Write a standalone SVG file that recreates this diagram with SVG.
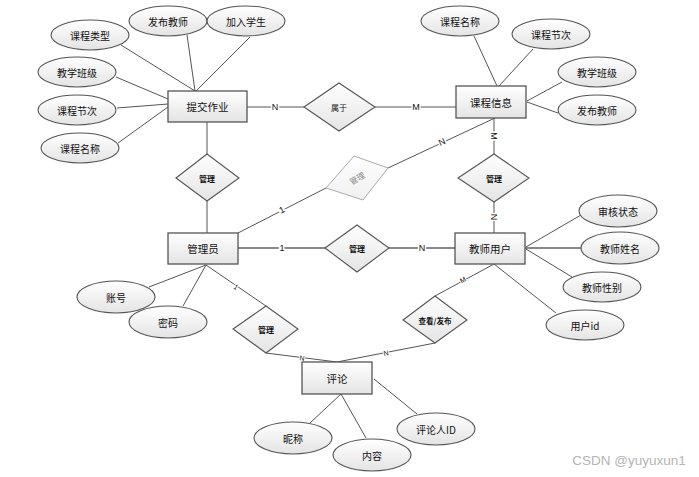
<svg xmlns="http://www.w3.org/2000/svg" width="699" height="477" viewBox="0 0 699 477">
<defs>
<linearGradient id="g" x1="0" y1="0" x2="0" y2="1">
<stop offset="0" stop-color="#ffffff"/>
<stop offset="1" stop-color="#e4e4e4"/>
</linearGradient>
<linearGradient id="gl" x1="0" y1="0" x2="0" y2="1">
<stop offset="0" stop-color="#ffffff"/>
<stop offset="1" stop-color="#f0f0f0"/>
</linearGradient>
</defs>
<style>
.ent{fill:url(#g);stroke:#555;stroke-width:1.3}
.att{fill:url(#g);stroke:#555;stroke-width:1.1}
.rel{fill:url(#g);stroke:#555;stroke-width:1.1}
.relg{fill:url(#gl);stroke:#aaa;stroke-width:1}
.ln{stroke:#555;stroke-width:1;fill:none}
.lnb{stroke:#888;stroke-width:2;fill:none}
text{font-family:"Noto Sans CJK SC","Liberation Sans",sans-serif;text-anchor:middle;dominant-baseline:central;fill:#111}
.t{font-size:10.5px}
.ta{font-size:10px}
.tr{font-size:8px;font-weight:bold}
.tl{font-family:"Liberation Sans",sans-serif;font-size:9px;stroke:#fff;stroke-width:3;paint-order:stroke}
.ts{font-family:"Liberation Sans",sans-serif;font-size:7px;stroke:#fff;stroke-width:2;paint-order:stroke}
</style>
<rect width="699" height="477" fill="#fff"/>
<g id="connectors">
<line class="ln" x1="121" y1="45" x2="195" y2="91"/>
<line class="ln" x1="187" y1="35" x2="195" y2="91"/>
<line class="ln" x1="250" y1="37" x2="196" y2="91"/>
<line class="ln" x1="116" y1="77" x2="168" y2="99"/>
<line class="ln" x1="117" y1="108" x2="168" y2="104"/>
<line class="ln" x1="118" y1="143" x2="168" y2="107"/>
<line class="ln" x1="247" y1="107" x2="304" y2="107"/>
<line class="ln" x1="375" y1="107" x2="456" y2="107"/>
<line class="ln" x1="207" y1="122" x2="207" y2="154"/>
<line class="ln" x1="207" y1="201" x2="207" y2="233"/>
<line class="ln" x1="474" y1="36" x2="497" y2="86"/>
<line class="ln" x1="533" y1="49" x2="499" y2="86"/>
<line class="ln" x1="562" y1="82" x2="527" y2="101"/>
<line class="ln" x1="558" y1="113" x2="527" y2="102"/>
<line class="ln" x1="494" y1="118" x2="494" y2="154"/>
<line class="ln" x1="494" y1="202" x2="494" y2="233"/>
<line class="ln" x1="238" y1="233" x2="326" y2="188"/>
<line class="ln" x1="388" y1="168" x2="495" y2="118"/>
<line class="lnb" x1="238" y1="248" x2="325" y2="248"/>
<line class="lnb" x1="389" y1="248" x2="455" y2="248"/>
<line class="ln" x1="526" y1="247" x2="581" y2="215"/>
<line class="lnb" x1="525" y1="248" x2="582" y2="248"/>
<line class="ln" x1="526" y1="249" x2="572" y2="277"/>
<line class="ln" x1="494" y1="264" x2="556" y2="313"/>
<line class="ln" x1="494" y1="264" x2="435" y2="296"/>
<line class="ln" x1="435" y1="343" x2="337" y2="362"/>
<line class="ln" x1="206" y1="265" x2="266" y2="306"/>
<line class="ln" x1="266" y1="353" x2="337" y2="362"/>
<line class="ln" x1="149" y1="287" x2="206" y2="265"/>
<line class="ln" x1="183" y1="306" x2="206" y2="265"/>
<line class="ln" x1="310" y1="423" x2="341" y2="394"/>
<line class="ln" x1="366" y1="438" x2="341" y2="394"/>
<line class="ln" x1="417" y1="414" x2="374" y2="379"/>
<text class="tl" x="275" y="107">N</text>
<text class="tl" x="416" y="107">M</text>
<text class="tl" x="494" y="136" transform="rotate(90 494 136)">M</text>
<text class="tl" x="494" y="217" transform="rotate(90 494 217)">N</text>
<text class="tl" x="282" y="210" transform="rotate(-27 282 210)">1</text>
<text class="tl" x="442" y="142" transform="rotate(-25 442 142)">N</text>
<text class="tl" x="282" y="248">1</text>
<text class="tl" x="422" y="248">N</text>
<text class="ts" x="236" y="287" transform="rotate(34 236 287)">1</text>
<text class="ts" x="302" y="358" transform="rotate(7 302 358)">N</text>
<text class="ts" x="386" y="353" transform="rotate(-11 386 353)">N</text>
<text class="ts" x="463" y="280" transform="rotate(-28 463 280)">M</text>
</g>
<g id="n-tijiao"><rect class="ent" x="168" y="91" width="79" height="31"/><text class="t" x="207.5" y="106.5">提交作业</text></g>
<g id="n-kechengxinxi"><rect class="ent" x="456" y="86" width="70" height="32"/><text class="t" x="491" y="102">课程信息</text></g>
<g id="n-guanliyuan"><rect class="ent" x="168" y="233" width="70" height="31"/><text class="t" x="203" y="248.5">管理员</text></g>
<g id="n-jiaoshi"><rect class="ent" x="455" y="233" width="70" height="31"/><text class="t" x="490" y="248.5">教师用户</text></g>
<g id="n-pinglun"><rect class="ent" x="302" y="362" width="70" height="32"/><text class="t" x="337" y="378">评论</text></g>
<g id="a-kclx"><ellipse class="att" cx="90" cy="35" rx="39" ry="15"/><text class="ta" x="90" y="35">课程类型</text></g>
<g id="a-fbjs1"><ellipse class="att" cx="168" cy="21" rx="39" ry="15"/><text class="ta" x="168" y="21">发布教师</text></g>
<g id="a-jrxs"><ellipse class="att" cx="246" cy="21" rx="39" ry="15"/><text class="ta" x="246" y="21">加入学生</text></g>
<g id="a-jxbj1"><ellipse class="att" cx="77" cy="72" rx="39" ry="15"/><text class="ta" x="77" y="72">教学班级</text></g>
<g id="a-kcjc1"><ellipse class="att" cx="77" cy="110" rx="39" ry="15"/><text class="ta" x="77" y="110">课程节次</text></g>
<g id="a-kcmc1"><ellipse class="att" cx="80" cy="148" rx="39" ry="15"/><text class="ta" x="80" y="148">课程名称</text></g>
<g id="a-kcmc2"><ellipse class="att" cx="460" cy="21" rx="39" ry="15"/><text class="ta" x="460" y="21">课程名称</text></g>
<g id="a-kcjc2"><ellipse class="att" cx="551" cy="34" rx="39" ry="15"/><text class="ta" x="551" y="34">课程节次</text></g>
<g id="a-jxbj2"><ellipse class="att" cx="597" cy="72" rx="39" ry="15"/><text class="ta" x="597" y="72">教学班级</text></g>
<g id="a-fbjs2"><ellipse class="att" cx="597" cy="110" rx="39" ry="15"/><text class="ta" x="597" y="110">发布教师</text></g>
<g id="a-shzt"><ellipse class="att" cx="618" cy="211" rx="39" ry="16"/><text class="ta" x="618" y="211">审核状态</text></g>
<g id="a-jsxm"><ellipse class="att" cx="620" cy="248" rx="39" ry="16"/><text class="ta" x="620" y="248">教师姓名</text></g>
<g id="a-jsxb"><ellipse class="att" cx="602" cy="287" rx="39" ry="15"/><text class="ta" x="602" y="287">教师性别</text></g>
<g id="a-yhid"><ellipse class="att" cx="585" cy="325" rx="39" ry="15"/><text class="ta" x="585" y="325">用户id</text></g>
<g id="a-zh"><ellipse class="att" cx="116" cy="297" rx="39" ry="16"/><text class="ta" x="116" y="297">账号</text></g>
<g id="a-mm"><ellipse class="att" cx="168" cy="322" rx="39" ry="16"/><text class="ta" x="168" y="322">密码</text></g>
<g id="a-nc"><ellipse class="att" cx="293" cy="438" rx="39" ry="16"/><text class="ta" x="293" y="438">昵称</text></g>
<g id="a-nr"><ellipse class="att" cx="372" cy="455" rx="39" ry="16"/><text class="ta" x="372" y="455">内容</text></g>
<g id="a-plrid"><ellipse class="att" cx="436" cy="429" rx="39" ry="16"/><text class="ta" x="436" y="429">评论人ID</text></g>
<g id="r-shuyu"><polygon class="rel" points="304,107 339,83 375,107 339,131"/><text class="tr" x="339" y="107" style="font-weight:normal">属于</text></g>
<g id="r-guanli1"><polygon class="rel" points="176,178 207,154 239,178 207,201"/><text class="tr" x="207" y="178">管理</text></g>
<g id="r-guanli2"><polygon class="rel" points="458,178 494,154 529,178 494,202"/><text class="tr" x="494" y="178">管理</text></g>
<g id="r-guanli3"><polygon class="relg" points="354,156 388,168 363,200 326,188"/><text class="tr" x="357" y="178" transform="rotate(-30 357 178)" style="fill:#888;font-weight:normal">管理</text></g>
<g id="r-guanli4"><polygon class="rel" points="325,248 357,225 389,248 357,272"/><text class="tr" x="357" y="248">管理</text></g>
<g id="r-guanli5"><polygon class="rel" points="233,329 266,306 298,329 266,353"/><text class="tr" x="266" y="329">管理</text></g>
<g id="r-chakan"><polygon class="rel" points="403,320 435,296 467,320 435,343"/><text class="tr" x="435" y="320" style="font-size:7.5px">查看/发布</text></g>
<text x="629" y="460" style="font-family:'Liberation Sans',sans-serif;font-size:13.5px;fill:#b4b4b4">CSDN @yuyuxun1</text>
</svg>
